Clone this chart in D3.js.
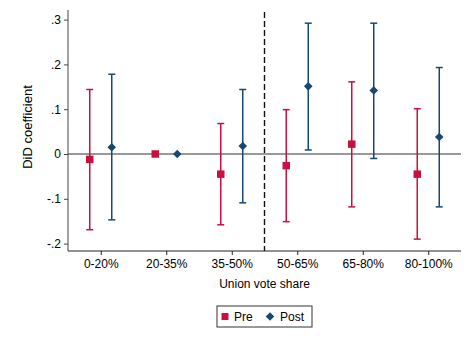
<!DOCTYPE html>
<html>
<head>
<meta charset="utf-8">
<script src="https://cdn.jsdelivr.net/npm/d3@7"></script>
<style>
  body { margin: 0; background: #fff; }
  svg { font-family: "Liberation Sans", Arial, sans-serif; }
</style>
</head>
<body>
<div id="chart"></div>
<script>
// categories and estimates
const categories = ["0-20%", "20-35%", "35-50%", "50-65%", "65-80%", "80-100%"];
const preCoef  = [-0.012, 0, -0.045, -0.026, 0.022, -0.045];
const preLo    = [-0.169, 0, -0.158, -0.151, -0.118, -0.190];
const preHi    = [0.144, 0, 0.068, 0.099, 0.161, 0.101];
const postCoef = [0.015, 0, 0.018, 0.151, 0.142, 0.038];
const postLo   = [-0.147, 0, -0.109, 0.009, -0.010, -0.118];
const postHi   = [0.178, 0, 0.144, 0.292, 0.292, 0.193];
const yTicks = [-0.2, -0.1, 0, 0.1, 0.2, 0.3];
const yTickLabels = ["-.2", "-.1", "0", ".1", ".2", ".3"];

const W = 473, H = 344;
const margin = {top: 10, right: 12, bottom: 93, left: 68};
const width = W - margin.left - margin.right;
const height = H - margin.top - margin.bottom;

const preColor = "#c8103e";
const postColor = "#1a476f";

const svg = d3.select("#chart").append("svg")
    .attr("width", W)
    .attr("height", H);

const g = svg.append("g")
    .attr("transform", `translate(${margin.left},${margin.top})`);

const x = d3.scaleLinear().domain([-0.5, 5.5]).range([0, width]);
const y = d3.scaleLinear().domain([0, 0.3]).range([144, 9.6]);

// y axis
const yAxis = g.append("g")
    .call(d3.axisLeft(y).tickValues(yTicks).tickFormat((d, i) => yTickLabels[i]).tickSize(4).tickPadding(3));
yAxis.select(".domain").attr("d", `M0,${height}V0`).attr("stroke", "#444");
yAxis.selectAll(".tick line").attr("stroke", "#444");
yAxis.selectAll("text").attr("font-size", 12).attr("fill", "#000");

// x axis
const xAxis = g.append("g")
    .attr("transform", `translate(0,${height})`)
    .call(d3.axisBottom(x).tickValues(d3.range(categories.length)).tickFormat(i => categories[i]).tickSize(4).tickPadding(4));
xAxis.select(".domain").attr("d", `M0,0H${width}`).attr("stroke", "#222");
xAxis.selectAll(".tick line").attr("stroke", "#222");
xAxis.selectAll("text").attr("font-size", 12).attr("fill", "#000");

// zero line
g.append("line")
    .attr("x1", 0).attr("x2", width)
    .attr("y1", y(0)).attr("y2", y(0))
    .attr("stroke", "#333").attr("stroke-width", 1);

// dashed separator
g.append("line")
    .attr("x1", x(2.5)).attr("x2", x(2.5))
    .attr("y1", 2).attr("y2", height)
    .attr("stroke", "#111").attr("stroke-width", 1.4)
    .attr("stroke-dasharray", "6,3");

const off = 11;
const cap = 3.5;

function drawSeries(coef, lo, hi, dx, color, shape) {
    const grp = g.append("g");
    categories.forEach((c, i) => {
        const cx = x(i) + dx;
        if (hi[i] !== lo[i]) {
            grp.append("line")
                .attr("x1", cx).attr("x2", cx)
                .attr("y1", y(lo[i])).attr("y2", y(hi[i]))
                .attr("stroke", color).attr("stroke-width", 1.5);
            [lo[i], hi[i]].forEach(v => {
                grp.append("line")
                    .attr("x1", cx - cap).attr("x2", cx + cap)
                    .attr("y1", y(v)).attr("y2", y(v))
                    .attr("stroke", color).attr("stroke-width", 1.5);
            });
        }
        grp.append("path")
            .attr("transform", `translate(${cx},${y(coef[i])})`)
            .attr("d", d3.symbol().type(shape).size(shape === d3.symbolSquare ? 56 : 48)())
            .attr("fill", color);
    });
}

const diamond = {
    draw(ctx, size) {
        const r = Math.sqrt(size) * 0.62;
        ctx.moveTo(0, -r); ctx.lineTo(r, 0); ctx.lineTo(0, r); ctx.lineTo(-r, 0); ctx.closePath();
    }
};

drawSeries(preCoef, preLo, preHi, -off, preColor, d3.symbolSquare);
drawSeries(postCoef, postLo, postHi, off, postColor, diamond);

// axis titles
svg.append("text")
    .attr("x", margin.left + x(2.5))
    .attr("y", 288)
    .attr("text-anchor", "middle")
    .attr("font-size", 12)
    .text("Union vote share");

svg.append("text")
    .attr("transform", `translate(32,127) rotate(-90)`)
    .attr("text-anchor", "middle")
    .attr("font-size", 13)
    .text("DiD coefficient");

// legend
const leg = svg.append("g").attr("transform", "translate(217,306)");
leg.append("rect")
    .attr("width", 95).attr("height", 21)
    .attr("fill", "#fff").attr("stroke", "#333").attr("stroke-width", 1);
leg.append("path")
    .attr("transform", "translate(8,10.5)")
    .attr("d", d3.symbol().type(d3.symbolSquare).size(49)())
    .attr("fill", preColor);
leg.append("text").attr("x", 17).attr("y", 15).attr("font-size", 12).text("Pre");
leg.append("path")
    .attr("transform", "translate(53,10.5)")
    .attr("d", d3.symbol().type(diamond).size(48)())
    .attr("fill", postColor);
leg.append("text").attr("x", 63).attr("y", 15).attr("font-size", 12).text("Post");
</script>
</body>
</html>
